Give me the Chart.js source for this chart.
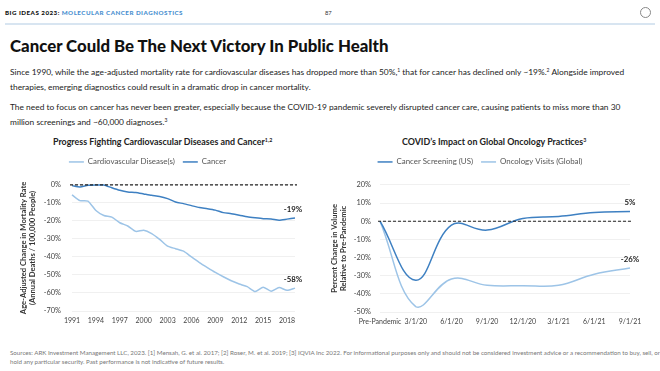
<!DOCTYPE html>
<html><head><meta charset="utf-8">
<script src="https://cdn.jsdelivr.net/npm/chart.js@4/dist/chart.umd.min.js"></script>
<style>
body{margin:0;width:660px;height:371px;overflow:hidden;background:#fff;font-family:Lato,"Open Sans",sans-serif;position:relative;color:#222}
.a{position:absolute;white-space:nowrap}
sup{font-size:60%;line-height:0;vertical-align:0.5em}
.p{font-size:8.4px;left:10px;color:#222}
.ct{font-size:8.9px;font-weight:700;color:#222}
canvas{position:absolute}
</style></head><body>
<div class="a" style="left:5px;top:9px;font-size:6.2px;font-weight:900;letter-spacing:0.5px;color:#111">BIG IDEAS 2023: <span style="color:#4a90d0">MOLECULAR CANCER DIAGNOSTICS</span></div>
<div class="a" style="left:325px;top:9px;font-size:5.8px;color:#333">87</div>
<div class="a" style="left:640px;top:7px;width:9px;height:9px;border:1px solid #888;border-radius:50%"></div>
<div class="a" style="left:5px;top:23px;width:650px;height:1.5px;background:#d8e5f1"></div>
<div class="a" style="left:10px;top:35px;font-size:16.8px;font-weight:900;color:#111">Cancer Could Be The Next Victory In Public Health</div>
<div class="a p" style="top:67px">Since 1990, while the age-adjusted mortality rate for cardiovascular diseases has dropped more than 50%,<sup>1</sup> that for cancer has declined only ~19%.<sup>2</sup> Alongside improved</div>
<div class="a p" style="top:82px">therapies, emerging diagnostics could result in a dramatic drop in cancer mortality.</div>
<div class="a p" style="top:102px">The need to focus on cancer has never been greater, especially because the COVID-19 pandemic severely disrupted cancer care, causing patients to miss more than 30</div>
<div class="a p" style="top:117px">million screenings and ~60,000 diagnoses.<sup>3</sup></div>
<div class="a ct" style="left:53px;top:136px">Progress Fighting Cardiovascular Diseases and Cancer<sup>1,2</sup></div>
<div class="a ct" style="left:402px;top:136px">COVID’s Impact on Global Oncology Practices<sup>3</sup></div>
<canvas id="c1" width="320" height="185" style="left:0;top:150px;width:320px;height:185px"></canvas>
<canvas id="c2" width="327" height="185" style="left:330px;top:150px;width:327px;height:185px"></canvas>
<div class="a" style="left:10px;top:349px;font-size:6.2px;color:#777">Sources: ARK Investment Management LLC, 2023. [1] Mensah, G. et al. 2017; [2] Roser, M. et al. 2019; [3] IQVIA Inc 2022. For informational purposes only and should not be considered investment advice or a recommendation to buy, sell, or</div>
<div class="a" style="left:10px;top:358px;font-size:6.2px;color:#777">hold any particular security. Past performance is not indicative of future results.</div>
<script>
// ---- data: left chart ----
const years = ['1991','1992','1993','1994','1995','1996','1997','1998','1999','2000','2001','2002','2003','2004','2005','2006','2007','2008','2009','2010','2011','2012','2013','2014','2015','2016','2017','2018','2019'];
const yearTicks = ['1991','1994','1997','2000','2003','2006','2009','2012','2015','2018'];
const cvdValues = [-5.5,-8.7,-9,-14.2,-17,-17.9,-21,-22.8,-25.8,-25.2,-27,-30.2,-34,-35.4,-36.8,-40,-43.1,-45.9,-48.6,-51,-53.2,-55,-56.5,-59.2,-56.8,-59,-57,-58.5,-57.3];
const cancerValues = [-0.4,-1.1,-0.2,0,0,-1.6,-3,-3.9,-4.2,-5,-5.8,-6.4,-7.6,-9.5,-10.4,-11.5,-12.6,-13.2,-14,-15.4,-16,-16.8,-17.7,-18.3,-18.8,-18.9,-19.6,-19,-18.4];
const leftEndLabels = ['-58%','-19%'];
// ---- data: right chart ----
const months = ['Pre-Pandemic','1/1/20','2/1/20','3/1/20','4/1/20','5/1/20','6/1/20','7/1/20','8/1/20','9/1/20','10/1/20','11/1/20','12/1/20','1/1/21','2/1/21','3/1/21','4/1/21','5/1/21','6/1/21','7/1/21','8/1/21','9/1/21'];
const monthTicks = ['Pre-Pandemic','3/1/20','6/1/20','9/1/20','12/1/20','3/1/21','6/1/21','9/1/21'];
const screeningValues = [0,null,null,-32.5,null,null,-2.2,null,null,-4.9,null,null,1.5,null,null,2.6,null,null,4.8,null,null,5.3];
const visitsValues = [0,null,null,-47,null,null,-31.8,null,null,-35.3,null,null,-35.5,null,null,-35.3,null,null,-29.2,null,null,-25.8];
const rightEndLabels = ['5%','-26%'];

const DARK = '#3e80c2', LIGHT = '#9dc4e7';
const FONT = 'Lato';

const legendGap = {
  id: 'legendGap',
  beforeInit(chart, args, opts) {
    const fit = chart.legend.fit;
    chart.legend.fit = function () { fit.call(this); this.height += opts.gap; };
  }
};
const zeroLine = {
  id: 'zeroLine',
  afterDatasetsDraw(chart) {
    const {ctx, chartArea: a, scales: {y}} = chart;
    const py = y.getPixelForValue(0);
    ctx.save();
    ctx.strokeStyle = '#222'; ctx.lineWidth = 1.1; ctx.setLineDash([3, 2]);
    ctx.beginPath(); ctx.moveTo(a.left - 2, py); ctx.lineTo(a.right + 2, py); ctx.stroke();
    ctx.restore();
  }
};
const endLabels = {
  id: 'endLabels',
  afterDatasetsDraw(chart, args, opts) {
    const {ctx} = chart;
    ctx.save();
    ctx.font = '700 7.8px ' + FONT; ctx.fillStyle = '#222';
    ctx.textAlign = 'center'; ctx.textBaseline = 'middle';
    chart.data.datasets.forEach((ds, i) => {
      const pts = chart.getDatasetMeta(i).data;
      const p = pts[pts.length - 1];
      ctx.fillText(opts.labels[i], p.x + (opts.dx || 0), p.y - 9);
    });
    ctx.restore();
  }
};

function baseOptions(cfg) {
  return {
    responsive: false, animation: false,
    layout: {padding: {top: 0, right: cfg.padRight, bottom: 0, left: 0}},
    plugins: {
      legend: {position: 'top', labels: {usePointStyle: true, pointStyle: 'line', pointStyleWidth: 15, boxHeight: 7, padding: cfg.legPad, color: '#555', font: {family: FONT, size: 7.9}}},
      legendGap: {gap: cfg.gap},
      tooltip: {enabled: false},
      endLabels: {labels: cfg.endLabels, dx: cfg.dx}
    },
    elements: {point: {radius: 0}},
    scales: {
      x: {
        offset: false,
        grid: {display: false, drawTicks: false},
        border: {display: false},
        ticks: {autoSkip: false, maxRotation: 0, padding: 6, color: '#444', font: {family: FONT, size: 7},
          callback(v, i) { const l = this.getLabelForValue(v); return cfg.ticks.includes(l) ? l : ''; }},
        afterFit(s) { s.height = cfg.xH; }
      },
      y: {
        min: cfg.min, max: cfg.max,
        grid: {color: '#ececec', lineWidth: 0.8, drawTicks: false},
        border: {display: false},
        ticks: {stepSize: 10, padding: cfg.tickPad, color: '#444', font: {family: FONT, size: 7.4}, callback: v => v + '%'},
        title: {display: true, text: cfg.yTitle, color: '#333', padding: {top: cfg.titlePad, bottom: 0}, font: {family: FONT, size: 7.6, weight: '700', lineHeight: 1.2}},
        afterFit(s) { s.width = cfg.yW; }
      }
    }
  };
}

new Chart(document.getElementById('c1'), {
  type: 'line',
  data: {labels: years, datasets: [
    {label: 'Cardiovascular Disease(s)', data: cvdValues, borderColor: LIGHT, backgroundColor: LIGHT, borderWidth: 1.5, tension: 0.2, clip: false},
    {label: 'Cancer', data: cancerValues, borderColor: DARK, backgroundColor: DARK, borderWidth: 1.5, tension: 0.2, clip: false}
  ]},
  options: baseOptions({padRight: 25, legPad: 8, gap: 9, endLabels: leftEndLabels, dx: -2, ticks: yearTicks, xH: 24, min: -70, max: 0, yW: 72, titlePad: 19, tickPad: 11,
    yTitle: ['Age-Adjusted Change in Mortality Rate', '(Annual Deaths / 100,000 People)']}),
  plugins: [legendGap, zeroLine, endLabels]
});
new Chart(document.getElementById('c2'), {
  type: 'line',
  data: {labels: months, datasets: [
    {label: 'Cancer Screening (US)', data: screeningValues, borderColor: DARK, backgroundColor: DARK, borderWidth: 1.5, tension: 0.4, spanGaps: true, clip: false},
    {label: 'Oncology Visits (Global)', data: visitsValues, borderColor: LIGHT, backgroundColor: LIGHT, borderWidth: 1.5, tension: 0.4, spanGaps: true, clip: false}
  ]},
  options: baseOptions({padRight: 27, legPad: 8, gap: 9, endLabels: rightEndLabels, dx: 0, ticks: monthTicks, xH: 23, min: -50, max: 20, yW: 50, titlePad: 0, tickPad: 9,
    yTitle: ['Percent Change in Volume', 'Relative to Pre-Pandemic']}),
  plugins: [legendGap, zeroLine, endLabels]
});
</script>
</body></html>
